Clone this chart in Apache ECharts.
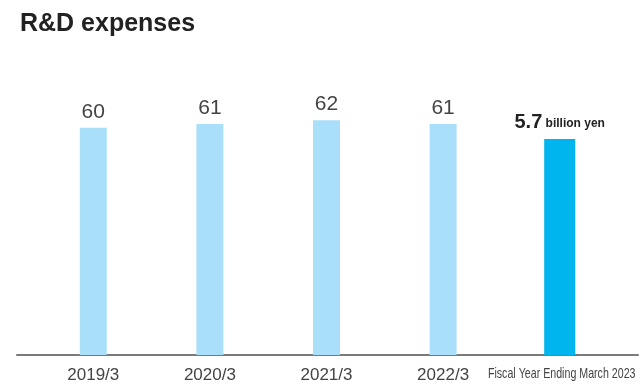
<!DOCTYPE html>
<html>
<head>
<meta charset="utf-8">
<script src="https://cdn.jsdelivr.net/npm/echarts@6/dist/echarts.min.js"></script>
<style>
  html, body { margin: 0; padding: 0; background: #fff; }
  #chart { width: 640px; height: 388px; }
</style>
</head>
<body>
<div id="chart"></div>
<script>
// R&D expenses, in units of 100 million yen
const categories = ['2019/3', '2020/3', '2021/3', '2022/3', 'Fiscal Year Ending March 2023'];
const pastValues = [60, 61, 62, 61, '-'];
const latestValues = ['-', '-', '-', '-', 57];

const chart = echarts.init(document.getElementById('chart'));

const baseFont = '"Liberation Sans", Arial, sans-serif';
const lastIndex = categories.length - 1;

chart.setOption({
  animation: false,
  title: {
    text: 'R&D expenses',
    left: 15,
    top: 7,
    textStyle: { fontFamily: baseFont, fontSize: 25, fontWeight: 'bold', color: '#222' }
  },
  grid: [
    { left: 35, right: 22, top: 52, bottom: 33, outerBoundsMode: 'none' },
    { left: 17, right: 2, top: 52, bottom: 33, outerBoundsMode: 'none' }
  ],
  xAxis: [
    {
      type: 'category',
      gridIndex: 0,
      data: categories,
      axisLine: { show: false },
      axisTick: { show: false },
      axisLabel: {
        margin: 12,
        fontFamily: baseFont,
        fontSize: 17,
        color: '#444',
        interval: 0,
        // the long final category is drawn as a condensed graphic below
        formatter: function (v, i) { return i === lastIndex ? '' : v; }
      }
    },
    {
      type: 'category',
      gridIndex: 0,
      data: categories,
      show: false
    },
    {
      type: 'value',
      gridIndex: 1,
      min: 0,
      max: 1,
      position: 'bottom',
      axisLine: { show: true, onZero: false, lineStyle: { color: '#7a7a7a', width: 2 } },
      axisTick: { show: false },
      axisLabel: { show: false },
      splitLine: { show: false }
    }
  ],
  yAxis: [
    { type: 'value', gridIndex: 0, min: 0, max: 80, show: false },
    { type: 'value', gridIndex: 1, min: 0, max: 1, show: false }
  ],
  series: [
    {
      type: 'bar',
      xAxisIndex: 0,
      yAxisIndex: 0,
      data: pastValues,
      barWidth: 27,
      itemStyle: { color: '#aadffa' },
      label: {
        show: true,
        position: 'top',
        distance: 5,
        fontFamily: baseFont,
        fontSize: 21,
        color: '#444'
      }
    },
    {
      type: 'bar',
      xAxisIndex: 1,
      yAxisIndex: 0,
      data: latestValues,
      barWidth: 31,
      itemStyle: { color: '#00b4ee' },
      label: {
        show: true,
        position: 'top',
        distance: 7,
        formatter: function (p) {
          return '{v|' + (p.value / 10).toFixed(1) + '} {u|billion yen}';
        },
        rich: {
          v: { fontFamily: baseFont, fontSize: 20, fontWeight: 'bold', color: '#222' },
          u: { fontFamily: baseFont, fontSize: 12, fontWeight: 'bold', color: '#222', padding: [4, 0, 0, 0] }
        }
      }
    }
  ]
});

// Condensed label for the final category, centred under its bar
const base = chart.convertToPixel({ xAxisIndex: 1, yAxisIndex: 0 }, [lastIndex, 0]);
chart.setOption({
  graphic: [{
    type: 'text',
    x: base[0] + 2,
    y: base[1] + 19,
    scaleX: 0.71,
    style: {
      text: categories[lastIndex],
      fontFamily: baseFont,
      fontSize: 15,
      fill: '#444',
      align: 'center',
      verticalAlign: 'middle'
    }
  }]
});
</script>
</body>
</html>
